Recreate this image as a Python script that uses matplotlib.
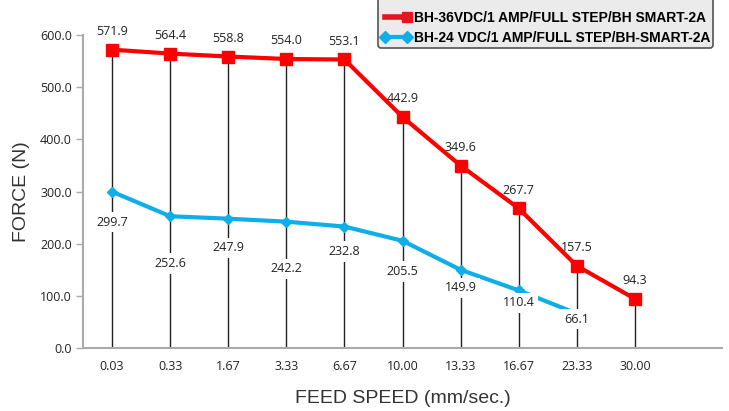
import matplotlib
matplotlib.use("Agg")
import matplotlib.pyplot as plt
from matplotlib.lines import Line2D
from matplotlib.legend_handler import HandlerLine2D

# data
speeds = ["0.03", "0.33", "1.67", "3.33", "6.67", "10.00", "13.33", "16.67", "23.33", "30.00"]
force_36v = [571.9, 564.4, 558.8, 554.0, 553.1, 442.9, 349.6, 267.7, 157.5, 94.3]
force_24v = [299.7, 252.6, 247.9, 242.2, 232.8, 205.5, 149.9, 110.4, 66.1]
y_ticks = [0, 100, 200, 300, 400, 500, 600]

# label offsets below the blue points (points), as placed in the original
blue_offsets = [-22, -34, -21, -34, -18, -22, -13, -9, -4]

RED = "#ff0000"
BLUE = "#10aee8"
NUM_FONT = "Open Sans"


class RightMarkerHandler(HandlerLine2D):
    # legend line with a marker only at its right end
    def create_artists(self, *args, **kwargs):
        artists = super().create_artists(*args, **kwargs)
        for a in artists:
            a.set_markevery([len(a.get_xdata()) - 1])
        return artists


fig = plt.figure(figsize=(7.29, 4.11), dpi=100)
ax = fig.add_axes([0.1139, 0.1533, 0.8765, 0.7615])

x_red = list(range(len(speeds)))
x_blue = list(range(len(force_24v)))

# drop lines from the top series to zero
ax.vlines(x_red, 0, force_36v, colors="#222222", linewidth=1.0, zorder=1)

ax.plot(x_red, force_36v, color=RED, linewidth=3, marker="s", markersize=8,
        zorder=3)
ax.plot(x_blue, force_24v, color=BLUE, linewidth=3, marker="D", markersize=5,
        zorder=2)

for x, v in zip(x_red, force_36v):
    ax.annotate(f"{v:.1f}", (x, v), xytext=(0, 13), textcoords="offset points",
                ha="center", va="center", fontsize=9, family=NUM_FONT,
                color="#222222", zorder=5)

for x, v, off in zip(x_blue, force_24v, blue_offsets):
    ax.annotate(f"{v:.1f}", (x, v), xytext=(0, off), textcoords="offset points",
                ha="center", va="center", fontsize=9, family=NUM_FONT,
                color="#222222", zorder=5,
                bbox=dict(boxstyle="square,pad=0.3", fc="white", ec="none"))

ax.set_xlim(-0.5, 10.5)
ax.set_ylim(0, 600)
ax.set_xticks(x_red)
ax.set_xticklabels(speeds, family=NUM_FONT, fontsize=9, color="#222222")
ax.set_yticks(y_ticks)
ax.set_yticklabels([f"{t:.1f}" for t in y_ticks], family=NUM_FONT,
                   fontsize=9, color="#222222")
ax.tick_params(axis="x", length=0, pad=9)
ax.tick_params(axis="y", length=5, width=1, color="#aaaaaa", pad=3)

for side in ("top", "right"):
    ax.spines[side].set_visible(False)
for side in ("left", "bottom"):
    ax.spines[side].set_color("#aaaaaa")
    ax.spines[side].set_linewidth(1.5)

ax.set_xlabel("FEED SPEED (mm/sec.)", family="Liberation Sans", fontsize=14,
              color="#333333", labelpad=12)
ax.set_ylabel("FORCE (N)", family="Liberation Sans", fontsize=14,
              color="#333333", labelpad=7)

red_handle = Line2D([], [], color="#e8141c", linewidth=4, marker="s",
                    markersize=7)
blue_handle = Line2D([], [], color=BLUE, linewidth=3, marker="D", markersize=6)
labels = ["BH-36VDC/1 AMP/FULL STEP/BH SMART-2A",
          "BH-24 VDC/1 AMP/FULL STEP/BH-SMART-2A"]
# the legend box runs off the top of the figure, as in the original
leg = fig.legend([red_handle, blue_handle], labels, loc="lower left",
                 bbox_to_anchor=(378 / 729, 1 - 48 / 411), numpoints=2,
                 handler_map={red_handle: RightMarkerHandler()},
                 prop=dict(family="Liberation Sans", weight="bold", size=10),
                 title=" ", title_fontsize=9,
                 handlelength=2.2, handletextpad=0.2, labelspacing=0.45,
                 borderpad=0.2, borderaxespad=0, fancybox=True,
                 frameon=True, framealpha=1)
leg.get_frame().set_facecolor("#ebebeb")
leg.get_frame().set_edgecolor("#555555")
leg.get_frame().set_linewidth(1.2)

fig.savefig("out.png", dpi=100)
